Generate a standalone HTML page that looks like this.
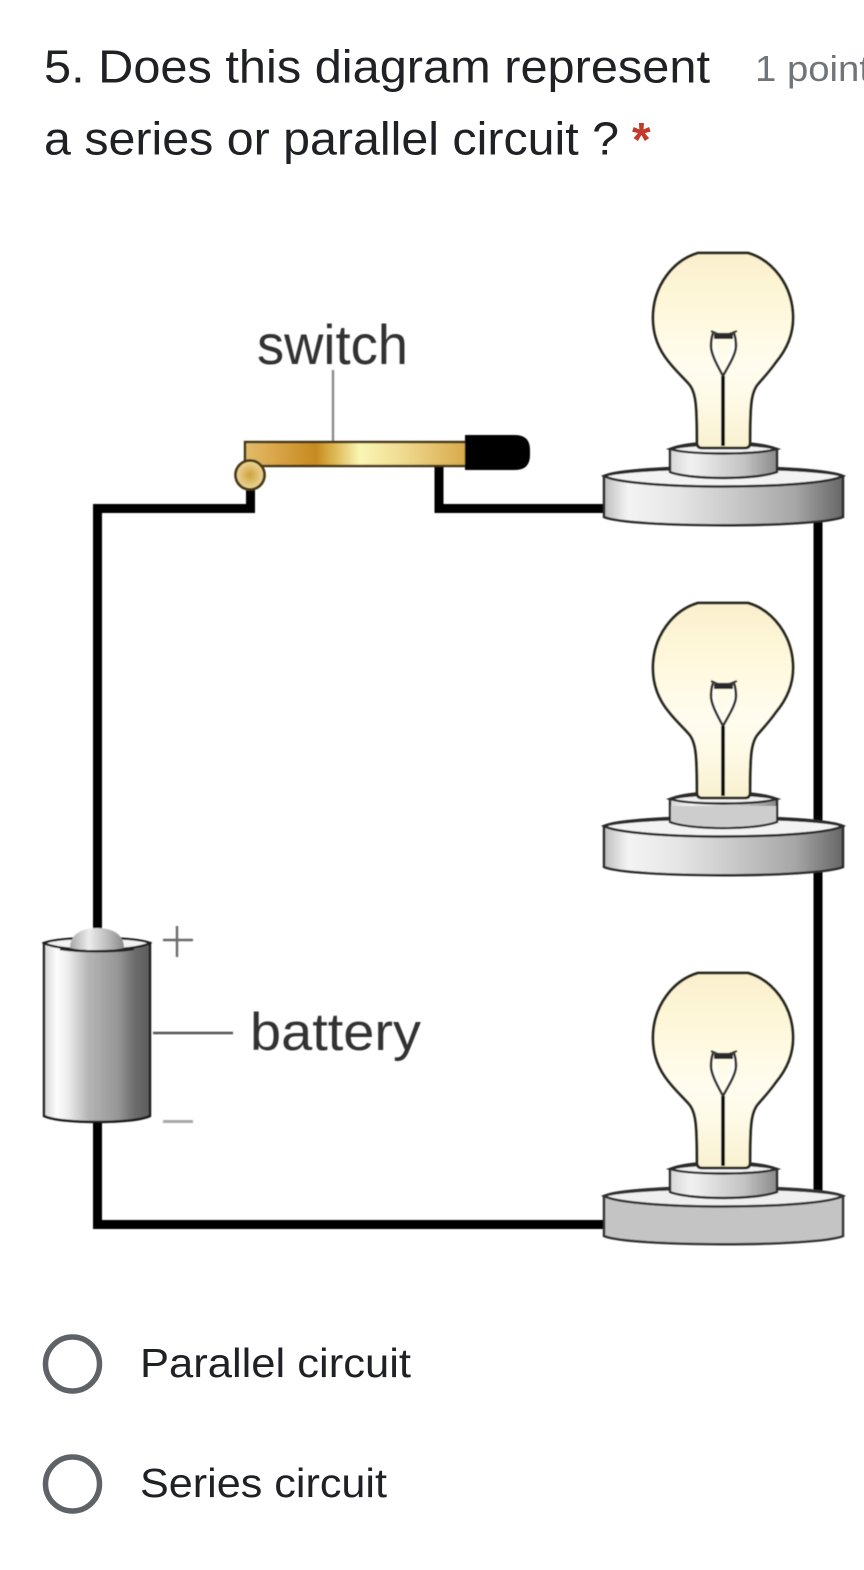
<!DOCTYPE html>
<html lang="en">
<head>
<meta charset="utf-8">
<title>Circuit question</title>
<style>
html,body{margin:0;padding:0;background:#fff;width:864px;height:1570px;overflow:hidden}
svg{display:block}
text{font-family:"Liberation Sans",sans-serif}
</style>
</head>
<body>
<svg width="864" height="1570" viewBox="0 0 864 1570" xmlns="http://www.w3.org/2000/svg">
<defs>
<filter id="soft" x="-2%" y="-2%" width="104%" height="104%"><feGaussianBlur stdDeviation="0.45"/></filter>
<linearGradient id="glass" gradientUnits="userSpaceOnUse" x1="0" x2="0" y1="253" y2="448">
<stop offset="0" stop-color="#fbf0cd"/><stop offset=".3" stop-color="#fef8dc"/><stop offset=".6" stop-color="#fffdf0"/><stop offset=".78" stop-color="#fdf9e4"/><stop offset="1" stop-color="#f8f1cf"/>
</linearGradient>
<linearGradient id="base" x1="0" x2="1" y1="0" y2="0">
<stop offset="0" stop-color="#bdbdbd"/><stop offset=".1" stop-color="#f4f4f4"/><stop offset=".3" stop-color="#e6e6e6"/><stop offset=".55" stop-color="#c8c8c8"/><stop offset=".8" stop-color="#a6a6a6"/><stop offset="1" stop-color="#666"/>
</linearGradient>
<linearGradient id="small" x1="0" x2="1" y1="0" y2="0">
<stop offset="0" stop-color="#d8d8d8"/><stop offset=".2" stop-color="#f2f2f2"/><stop offset=".7" stop-color="#c2c2c2"/><stop offset="1" stop-color="#8a8a8a"/>
</linearGradient>
<linearGradient id="brass" x1="0" x2="1" y1="0" y2="0">
<stop offset="0" stop-color="#e2bc6c"/><stop offset=".14" stop-color="#d9a548"/><stop offset=".32" stop-color="#c68a20"/><stop offset=".4" stop-color="#dcb550"/><stop offset=".52" stop-color="#faf5b4"/><stop offset=".7" stop-color="#f0dd92"/><stop offset="1" stop-color="#d8a94c"/>
</linearGradient>
<radialGradient id="pivot"><stop offset="0" stop-color="#cfa23e"/><stop offset="1" stop-color="#ecd89c"/></radialGradient>
<linearGradient id="cell" x1="0" x2="1" y1="0" y2="0">
<stop offset="0" stop-color="#d6d6d6"/><stop offset=".12" stop-color="#fcfcfc"/><stop offset=".22" stop-color="#eeeeee"/><stop offset=".42" stop-color="#b4b4b4"/><stop offset=".7" stop-color="#969696"/><stop offset=".85" stop-color="#6d6d6d"/><stop offset="1" stop-color="#5c5c5c"/>
</linearGradient>
<linearGradient id="term" x1="0" x2="1" y1="0" y2="0">
<stop offset="0" stop-color="#a8a8a8"/><stop offset=".35" stop-color="#ececec"/><stop offset=".7" stop-color="#bbb"/><stop offset="1" stop-color="#8a8a8a"/>
</linearGradient>
<g id="bulb">
<path d="M670 449C690 440 756 440 777 449V472C756 480 690 480 670 472Z" fill="url(#small)" stroke="#2c2c2c" stroke-width="2.400"/>
<path d="M670 449C690 443 756 443 777 449C756 455 690 455 670 449Z" fill="#f1f1f1" stroke="#2c2c2c" stroke-width="2.400"/>
<path d="M698 253H748C772 260 793 285 793 318C793 335 786 350 776 362C769 372 763 378 758 384C751 392 750 405 750 443Q750 448 745 448H702Q697 448 697 443C697 405 696 392 689 384C684 378 677 372 669 362C659 350 653 335 653 318C653 285 674 260 698 253Z" fill="url(#glass)" stroke="#26261f" stroke-width="2.800"/>
<path d="M723 446V376" stroke="#111" stroke-width="3.800" fill="none"/>
<path d="M723 376C717 365 711 354 711 346C711 340 712 336 713 333M723 376C729 365 736 354 736 346C736 340 735 336 734 333" stroke="#333" stroke-width="2.600" fill="#fffef8"/>
<path d="M711 331L718 334H729L737 331" stroke="#333" stroke-width="2.200" fill="none"/>
<path d="M714 334H733V339H714Z" fill="#2b2b2b"/>
</g>
</defs>

<rect width="864" height="1570" fill="#fff"/>

<!-- Question heading -->
<text x="44" y="82.500" font-size="46" fill="#202124" textLength="666" lengthAdjust="spacingAndGlyphs">5. Does this diagram represent</text>
<text x="755" y="81" font-size="36" fill="#70757a" textLength="115" lengthAdjust="spacingAndGlyphs">1 point</text>
<text x="44" y="154.500" font-size="46" fill="#202124" textLength="575" lengthAdjust="spacingAndGlyphs">a series or parallel circuit ?</text>
<text x="632" y="156" font-size="48" font-weight="bold" fill="#c5392b">*</text>

<g filter="url(#soft)">
<!-- Wires -->
<g fill="none" stroke="#000" stroke-width="9" stroke-linejoin="miter">
<path d="M97.500 932V508.500H250.500V486"/>
<path d="M439 466V508.500H606"/>
<path d="M818 515V1192"/>
<path d="M97.500 1118V1224.500H606"/>
</g>

<!-- Switch -->
<path d="M333 370V442" stroke="#8c8c8c" stroke-width="2.400"/>
<rect x="245" y="442" width="221" height="24" fill="url(#brass)" stroke="#3f3112" stroke-width="2.400"/>
<path d="M465 435H515Q530 435 530 450V455Q530 470 515 470H465Z" fill="#000"/>
<circle cx="250" cy="475" r="14.500" fill="url(#pivot)" stroke="#4a3a16" stroke-width="2.800"/>
<text x="257" y="364" font-size="56" fill="#333" textLength="151" lengthAdjust="spacingAndGlyphs">switch</text>

<!-- Bulb 1 -->
<g>
<path d="M604 476C630 464 816 464 843 476V517C816 528 630 528 604 517Z" fill="url(#base)" stroke="#2a2a2a" stroke-width="2.500"/>
<path d="M604 476C630 466 816 466 843 476C816 490 630 490 604 476Z" fill="#f3f3f3" stroke="#2a2a2a" stroke-width="2.500"/>
<use href="#bulb"/>
</g>
<!-- Bulb 2 -->
<g transform="translate(0,350)">
<path d="M604 476C630 464 816 464 843 476V517C816 528 630 528 604 517Z" fill="url(#base)" stroke="#2a2a2a" stroke-width="2.500"/>
<path d="M604 476C630 466 816 466 843 476C816 490 630 490 604 476Z" fill="#f3f3f3" stroke="#2a2a2a" stroke-width="2.500"/>
<use href="#bulb"/>
<path d="M671 456C690 456 756 456 776 456V471C756 479 690 479 671 471Z" fill="#cdcdcd"/>
</g>
<!-- Bulb 3 -->
<g transform="translate(0,720)">
<path d="M604 476C630 464 816 464 843 476V516C816 527 630 527 604 516Z" fill="#c4c4c4" stroke="#333" stroke-width="2.500"/>
<path d="M604 476C630 466 816 466 843 476C816 490 630 490 604 476Z" fill="#efefef" stroke="#333" stroke-width="2.500"/>
<use href="#bulb"/>
</g>

<!-- Battery -->
<path d="M44 943V1116C60 1124 134 1124 150 1116V943Z" fill="url(#cell)" stroke="#1c1c1c" stroke-width="2.400"/>
<path d="M44 943C60 936 134 936 150 943C134 952 60 952 44 943Z" fill="#f2f2f2" stroke="#1c1c1c" stroke-width="2.200"/>
<path d="M70 948C70 934 82 928 97 928C112 928 124 934 124 948C112 951 82 951 70 948Z" fill="url(#term)"/>
<path d="M60 949C80 952 114 952 134 949" stroke="#222" stroke-width="2.400" fill="none"/>
<path d="M177 926V957M163 940H193" stroke="#6a6a6a" stroke-width="2.400" fill="none"/>
<path d="M163 1121.500H193" stroke="#a8a8a8" stroke-width="3"/>
<path d="M153 1033H233" stroke="#555" stroke-width="2.400"/>
<text x="250" y="1050" font-size="53" fill="#333" textLength="171" lengthAdjust="spacingAndGlyphs">battery</text>
</g>

<!-- Radio options -->
<circle cx="72.500" cy="1364" r="27" fill="#fff" stroke="#5f6368" stroke-width="5.500"/>
<text x="140" y="1377" font-size="41" fill="#202124" textLength="271" lengthAdjust="spacingAndGlyphs">Parallel circuit</text>
<circle cx="72.500" cy="1484" r="27" fill="#fff" stroke="#5f6368" stroke-width="5.500"/>
<text x="140" y="1497" font-size="41" fill="#202124" textLength="247" lengthAdjust="spacingAndGlyphs">Series circuit</text>
</svg>
</body>
</html>
